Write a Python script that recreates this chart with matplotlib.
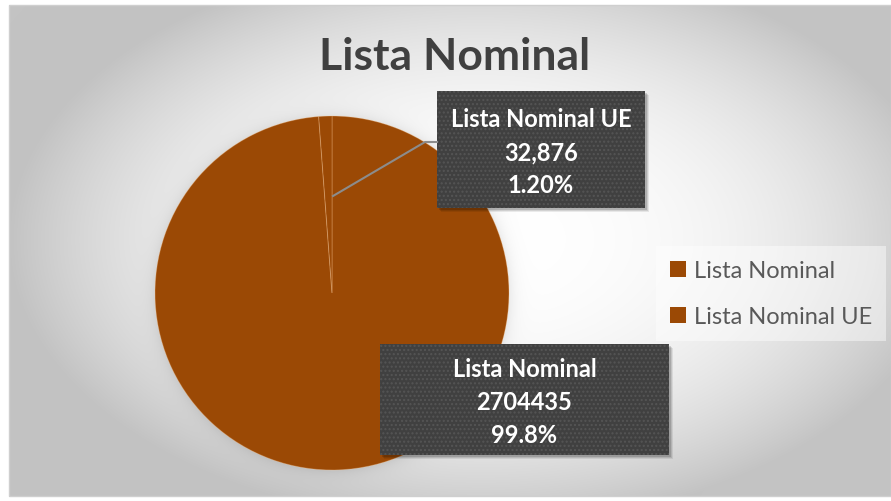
import numpy as np
import matplotlib
matplotlib.use("Agg")
import matplotlib.pyplot as plt
from matplotlib.patches import Rectangle, Patch
from matplotlib.lines import Line2D

# chart data
labels = ["Lista Nominal", "Lista Nominal UE"]
values = [2704435, 32876]
value_texts = ["2704435", "32,876"]
pct_texts = ["99.8%", "1.20%"]
title = "Lista Nominal"

W, H = 891, 502
BROWN = "#9B4905"
BOX = "#404040"

plt.rcParams["font.family"] = ["Lato", "DejaVu Sans"]

fig = plt.figure(figsize=(W / 100, H / 100), dpi=100)


def fx(x):
    return x / W


def fy(y):
    return 1 - y / H


# radial gradient background, drawn in pixel space
bg = fig.add_axes([0, 0, 1, 1])
yy, xx = np.mgrid[0:H, 0:W]
d = np.hypot((xx - 480) / 470, (yy - 240) / 285)
g = 255 - 60 * np.clip(d, 0, 1) ** 2.4
# soft shadow round the pie
pd = np.hypot(xx - 332, yy - 294) - 177
g = g - 18 * np.exp(-np.clip(pd, 0, None) / 7) * (pd > -2)
inside = (xx >= 9) & (yy >= 6) & (yy <= 497)
g = np.where(inside, g, 255) / 255
bg.imshow(np.dstack([g, g, g]), extent=(0, W, H, 0), aspect="auto", interpolation="bilinear")
bg.add_patch(Rectangle((9, 6), W - 9, 491, fill=False, edgecolor="#CFCFCF", lw=1))
bg.set_xlim(0, W)
bg.set_ylim(H, 0)
bg.axis("off")

# pie
ax = fig.add_axes([fx(155), fy(471), 354 / W, 354 / H])
ax.pie(values, colors=[BROWN, BROWN], startangle=90, counterclock=False,
       wedgeprops=dict(edgecolor=(1, 0.8, 0.6, 0.3), linewidth=0.7))
ax.set_xlim(-1, 1)
ax.set_ylim(-1, 1)

# leader line for the small slice
fig.add_artist(Line2D([fx(333), fx(425), fx(437)], [fy(197), fy(143), fy(143)],
                      color="#8C8C8C", lw=1.5))

# data label boxes
boxes = [(380, 345, 669, 456), (437, 92, 645, 209)]
for i, (x0, y0, x1, y1) in enumerate(boxes):
    w, h = (x1 - x0) / W, (y1 - y0) / H
    for k, a in enumerate([0.08, 0.10, 0.14]):
        off = 4 - k
        fig.add_artist(Rectangle((fx(x0 + off), fy(y1 + off)), w, h, transform=fig.transFigure,
                                 facecolor="black", edgecolor="none", alpha=a))
    fig.add_artist(Rectangle((fx(x0), fy(y1)), w, h, transform=fig.transFigure,
                             facecolor=BOX, edgecolor="none"))
    fig.add_artist(Rectangle((fx(x0), fy(y1)), w, h, transform=fig.transFigure,
                             fill=False, hatch="....", edgecolor="#555555", lw=0))
    txt = "\n".join([labels[i], value_texts[i], pct_texts[i]])
    fig.text(fx((x0 + x1) / 2), fy((y0 + y1) / 2 + 2), txt, ha="center", va="center",
             color="white", fontsize=17, fontweight="bold", linespacing=1.55)

fig.text(fx(455), fy(57), title, ha="center", va="center", fontsize=32,
         fontweight="bold", color="#404040")

handles = [Patch(facecolor=BROWN, label=l) for l in labels]
fig.legend(handles=handles, loc="upper left", bbox_to_anchor=(fx(656), fy(247)),
           borderaxespad=0, frameon=True, facecolor="white", framealpha=0.45,
           edgecolor="none", fancybox=False, fontsize=17, labelcolor="#595959",
           handlelength=0.65, handleheight=0.65, handletextpad=0.35, labelspacing=1.05,
           borderpad=0.6)

fig.savefig("out.png", dpi=100)
